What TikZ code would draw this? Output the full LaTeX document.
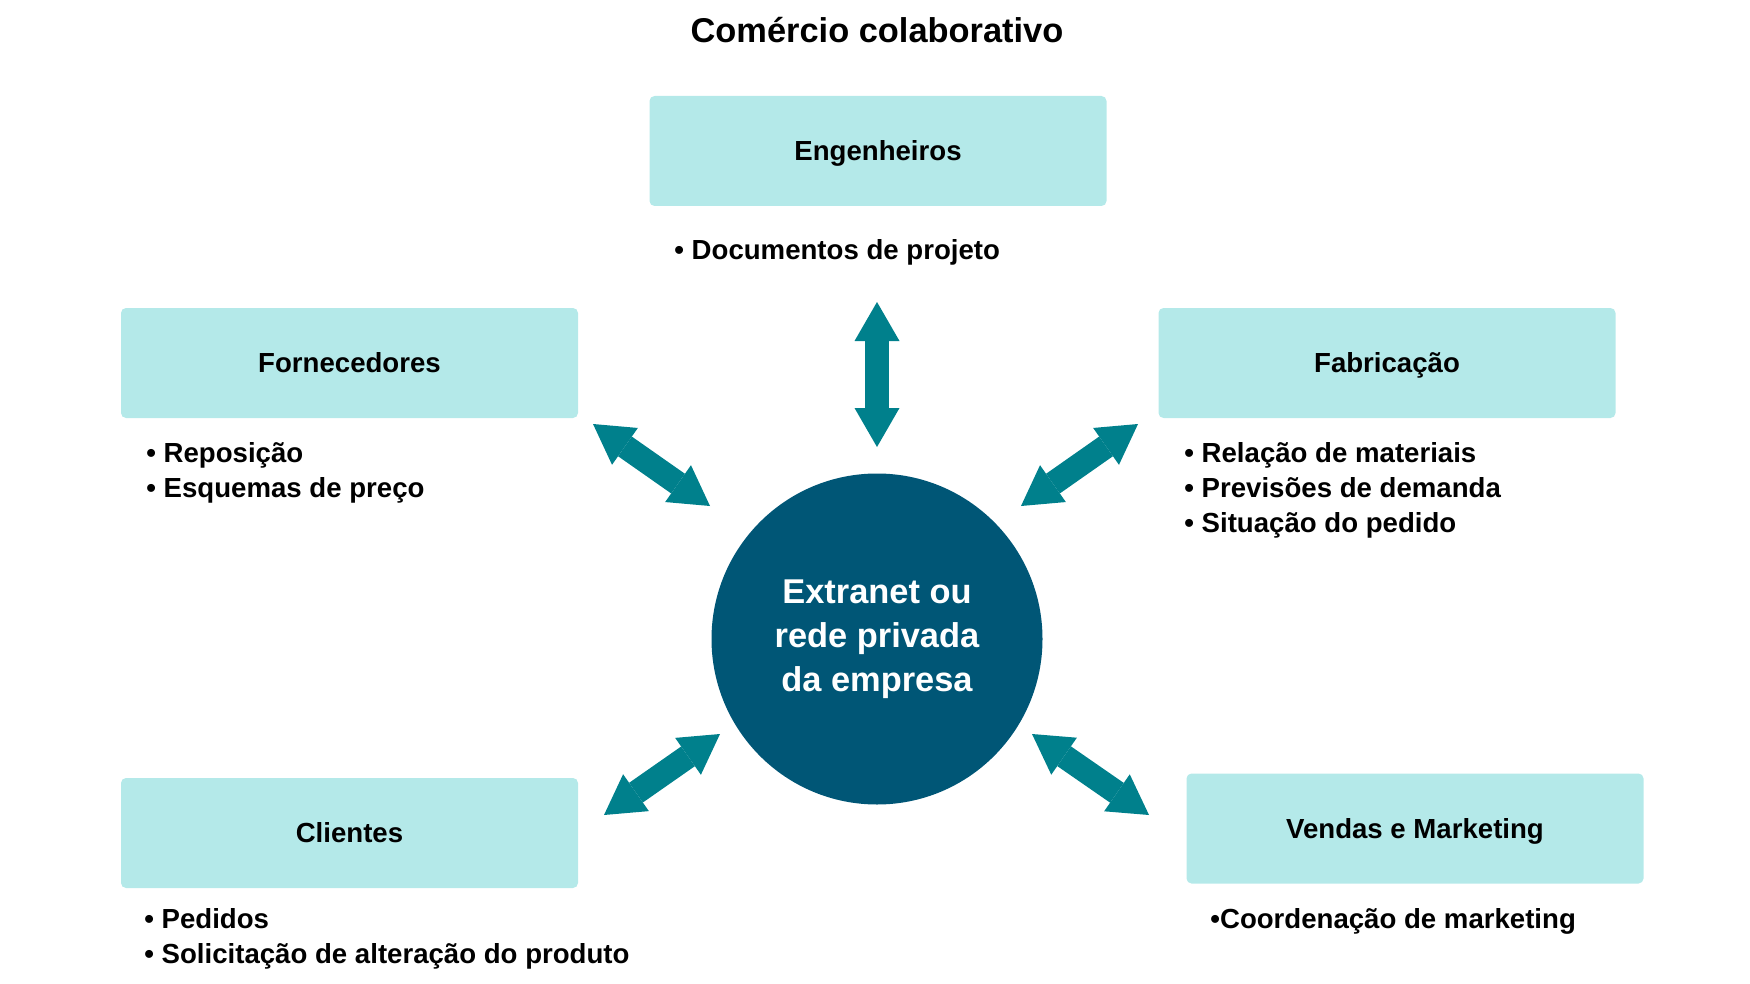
\documentclass[tikz,border=0pt]{standalone}
\usepackage{fontspec}
\setmainfont{Liberation Sans}
\usetikzlibrary{arrows.meta}

\definecolor{boxcyan}{HTML}{B4E9E9}
\definecolor{linkteal}{HTML}{00808C}
\definecolor{hubblue}{HTML}{005676}

\tikzset{
  party/.style={fill=boxcyan, rounded corners=2.5pt, minimum width=228.5pt,
    minimum height=55pt, text height=9.9pt, text depth=0pt,
    font=\bfseries\fontsize{13.8}{16}\selectfont},
  item/.style={anchor=base west, inner sep=0pt,
    font=\bfseries\fontsize{13.8}{16}\selectfont},
  link/.style={linkteal, line width=12pt,
    {Triangle[length=19.5pt,width=22.5pt,line width=0pt]}-{Triangle[length=19.5pt,width=22.5pt,line width=0pt]}},
}

\begin{document}
\begin{tikzpicture}[x=0.5pt,y=-0.5pt]
\useasboundingbox (0,0) rectangle (1750,984);
%%title
\node[font=\bfseries\fontsize{17.2}{20}\selectfont] (title) at (877,30) {Comércio colaborativo};
%%hub
\node[circle, fill=hubblue, minimum size=165.5pt, inner sep=0pt, text=white,
  align=center, font=\bfseries\fontsize{17.2}{22}\selectfont] (hub) at (877,639)
  {Extranet ou\\rede privada\\da empresa};
%%engenheiros
\node[party] (eng) at (878,151) {Engenheiros};
\node[item] (eng-1) at (674,260) {• Documentos de projeto};
%%fornecedores
\node[party] (forn) at (349.5,363) {Fornecedores};
\node[item] (forn-1) at (146,462) {• Reposição};
\node[item] (forn-2) at (146,497) {• Esquemas de preço};
%%fabricacao
\node[party] (fab) at (1387,363) {Fabricação};
\node[item] (fab-1) at (1184,462) {• Relação de materiais};
\node[item] (fab-2) at (1184,497) {• Previsões de demanda};
\node[item] (fab-3) at (1184,532) {• Situação do pedido};
%%clientes
\node[party] (cli) at (349.5,833) {Clientes};
\node[item] (cli-1) at (144,928) {• Pedidos};
\node[item] (cli-2) at (144,963) {• Solicitação de alteração do produto};
%%vendas
\node[party] (ven) at (1415,828.5) {Vendas e Marketing};
\node[item] (ven-1) at (1210,928) {•Coordenação de marketing};
%%links
\coordinate (eng-a) at (877,302);
\coordinate (eng-b) at (877,447);
\draw[link] (eng-a) -- (eng-b);
\coordinate (forn-a) at (593,424);
\coordinate (forn-b) at (710,506);
\draw[link] (forn-a) -- (forn-b);
\coordinate (fab-a) at (1138,424);
\coordinate (fab-b) at (1021,506);
\draw[link] (fab-a) -- (fab-b);
\coordinate (cli-a) at (720,734);
\coordinate (cli-b) at (604,815);
\draw[link] (cli-a) -- (cli-b);
\coordinate (ven-a) at (1032,734);
\coordinate (ven-b) at (1149,815);
\draw[link] (ven-a) -- (ven-b);
\end{tikzpicture}
\end{document}
